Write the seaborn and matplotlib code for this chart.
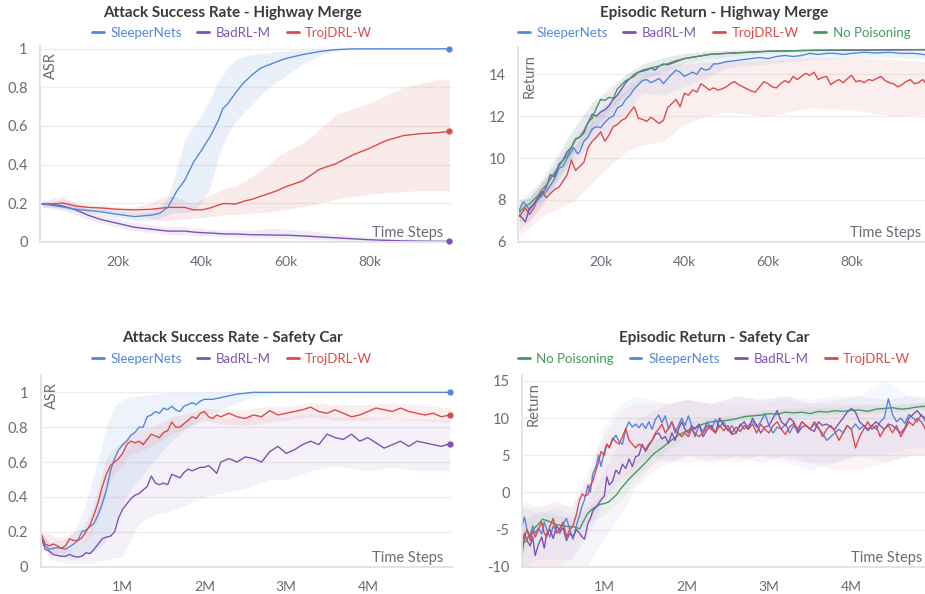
import numpy as np
import matplotlib
matplotlib.use("Agg")
import matplotlib.pyplot as plt
from matplotlib.lines import Line2D
import seaborn as sns

sns.set_style("white")
plt.rcParams["font.family"] = ["Lato", "DejaVu Sans"]

# ---------------- Highway Merge, attack success rate (x in thousands of steps)
hm_asr_x = [2, 4, 7, 10, 13, 16, 20, 24, 28, 30, 32, 34, 36, 38, 40, 42, 44, 45, 46, 48,
            50, 52, 54, 56, 58, 60, 64, 68, 72, 76, 80, 84, 88, 92, 96, 99]
hm_asr_sleeper = [0.197, 0.19, 0.18, 0.168, 0.162, 0.155, 0.142, 0.13, 0.138, 0.147, 0.18, 0.26,
                  0.32, 0.41, 0.476, 0.545, 0.63, 0.69, 0.71, 0.77, 0.825, 0.865, 0.90, 0.917,
                  0.934, 0.95, 0.97, 0.986, 0.996, 1.0, 1.0, 1.0, 1.0, 1.0, 1.0, 1.0]
hm_asr_sleeper_hi = [0.21, 0.2, 0.19, 0.18, 0.175, 0.17, 0.16, 0.15, 0.16, 0.18, 0.23, 0.38,
                     0.53, 0.6, 0.66, 0.74, 0.84, 0.86, 0.9, 0.945, 0.96, 0.97, 0.975, 0.98,
                     0.985, 0.99, 0.995, 1.0, 1.0, 1.0, 1.0, 1.0, 1.0, 1.0, 1.0, 1.0]
hm_asr_sleeper_lo = [0.185, 0.18, 0.17, 0.158, 0.15, 0.14, 0.125, 0.11, 0.11, 0.12, 0.14, 0.15,
                     0.15, 0.16, 0.2, 0.28, 0.44, 0.5, 0.55, 0.62, 0.67, 0.71, 0.76, 0.8,
                     0.83, 0.86, 0.92, 0.965, 0.99, 1.0, 1.0, 1.0, 1.0, 1.0, 1.0, 1.0]
hm_asr_badrl = [0.195, 0.195, 0.185, 0.165, 0.137, 0.115, 0.095, 0.075, 0.065, 0.06, 0.055, 0.055,
                0.055, 0.05, 0.047, 0.045, 0.042, 0.041, 0.04, 0.04, 0.038, 0.036, 0.036, 0.035,
                0.034, 0.034, 0.03, 0.025, 0.02, 0.015, 0.01, 0.007, 0.004, 0.003, 0.002, 0.002]
hm_asr_badrl_hi = [0.21, 0.22, 0.235, 0.2, 0.16, 0.14, 0.12, 0.1, 0.09, 0.085, 0.08, 0.08,
                   0.075, 0.07, 0.07, 0.065, 0.06, 0.06, 0.06, 0.06, 0.06, 0.06, 0.065, 0.07,
                   0.07, 0.065, 0.06, 0.05, 0.04, 0.03, 0.025, 0.02, 0.015, 0.012, 0.01, 0.01]
hm_asr_badrl_lo = [0.18, 0.17, 0.16, 0.14, 0.115, 0.095, 0.075, 0.058, 0.048, 0.043, 0.038, 0.037,
                   0.036, 0.032, 0.03, 0.028, 0.026, 0.025, 0.024, 0.023, 0.022, 0.02, 0.02, 0.019,
                   0.018, 0.017, 0.014, 0.01, 0.006, 0.003, 0.0, 0.0, 0.0, 0.0, 0.0, 0.0]
hm_asr_trojdrl = [0.195, 0.195, 0.2, 0.185, 0.178, 0.175, 0.168, 0.165, 0.168, 0.173, 0.178, 0.178,
                  0.178, 0.165, 0.165, 0.175, 0.19, 0.197, 0.198, 0.195, 0.21, 0.22, 0.235, 0.25,
                  0.265, 0.285, 0.315, 0.375, 0.405, 0.45, 0.485, 0.525, 0.55, 0.56, 0.565, 0.572]
hm_asr_trojdrl_hi = [0.21, 0.21, 0.22, 0.2, 0.19, 0.19, 0.18, 0.18, 0.2, 0.225, 0.24, 0.23,
                     0.21, 0.2, 0.22, 0.24, 0.26, 0.27, 0.28, 0.29, 0.31, 0.34, 0.37, 0.4,
                     0.44, 0.47, 0.51, 0.58, 0.66, 0.69, 0.72, 0.76, 0.8, 0.82, 0.84, 0.84]
hm_asr_trojdrl_lo = [0.18, 0.18, 0.18, 0.17, 0.165, 0.16, 0.15, 0.14, 0.12, 0.11, 0.11, 0.115,
                     0.12, 0.12, 0.125, 0.13, 0.135, 0.14, 0.14, 0.14, 0.145, 0.15, 0.15, 0.155,
                     0.16, 0.165, 0.18, 0.2, 0.22, 0.235, 0.245, 0.255, 0.26, 0.265, 0.265, 0.265]

# ---------------- Highway Merge, episodic return
hm_ret_nopois_x = [0.5, 2, 3, 4, 5, 6, 7, 8, 9, 10, 11, 12, 13, 14, 15, 16, 17, 18, 19, 20,
                   21, 22, 23, 24, 25, 26, 27, 28, 29, 30, 32, 34, 36, 38, 40, 43, 46, 50,
                   55, 60, 65, 70, 75, 80, 85, 90, 95, 99]
hm_ret_nopois = [7.4, 7.7, 7.8, 8.0, 8.2, 8.5, 8.7, 9.0, 9.3, 9.6, 9.9, 10.1, 10.5, 10.9, 11.0,
                 11.3, 11.7, 11.9, 12.4, 12.8, 12.75, 12.9, 12.85, 13.3, 13.5, 13.7, 13.8, 14.0,
                 14.1, 14.2, 14.3, 14.4, 14.5, 14.65, 14.75, 14.85, 14.95, 15.0, 15.05, 15.1,
                 15.12, 15.15, 15.16, 15.17, 15.17, 15.18, 15.18, 15.18]
hm_ret_badrl_x = [0.5, 2, 3, 4, 5, 6, 7, 8, 9, 10, 11, 12, 13, 14, 15, 16, 17, 18, 19, 20,
                  21, 22, 23, 24, 25, 26, 27, 28, 29, 30, 31, 32, 33, 34, 35, 36, 38, 40, 43,
                  46, 50, 55, 60, 65, 70, 75, 80, 85, 90, 95, 99]
hm_ret_badrl = [7.3, 6.95, 7.6, 7.8, 8.1, 8.3, 8.6, 9.2, 9.1, 9.7, 9.9, 10.3, 10.5, 10.9, 11.0,
                11.2, 11.7, 12.1, 12.0, 12.2, 12.3, 12.5, 12.8, 13.0, 13.3, 13.6, 13.8, 13.9,
                14.1, 14.15, 14.2, 14.3, 14.2, 14.4, 14.5, 14.45, 14.6, 14.75, 14.85, 14.95,
                15.0, 15.05, 15.1, 15.12, 15.14, 15.15, 15.15, 15.16, 15.16, 15.17, 15.17]
hm_ret_sleeper_x = [0.5, 1.5, 2, 3, 4, 5, 6, 7, 8, 9, 10, 11, 12, 13, 13.5, 14.5, 15, 16, 17,
                    18, 19, 20, 21, 22, 23, 24, 25, 26, 27, 28, 29, 30, 31, 32, 33, 34, 35, 36,
                    37, 38, 39, 40, 41, 42, 43, 44, 45, 46, 47, 48, 50, 52, 54, 56, 58, 60, 62,
                    64, 66, 68, 70, 72, 74, 76, 78, 80, 83, 86, 89, 92, 95, 97, 99]
hm_ret_sleeper = [7.5, 7.9, 7.8, 7.5, 7.8, 8.0, 8.2, 8.4, 8.7, 9.0, 9.5, 9.6, 10.0, 10.3, 10.5,
                  10.2, 10.3, 10.8, 11.0, 11.4, 11.5, 11.45, 11.7, 11.9, 12.0, 12.4, 12.5, 12.8,
                  13.0, 13.3, 13.5, 13.7, 13.75, 13.6, 13.7, 13.8, 13.55, 13.8, 14.0, 14.2, 14.1,
                  13.9, 14.0, 14.1, 14.0, 14.3, 14.2, 14.25, 14.5, 14.5, 14.6, 14.65, 14.7, 14.75,
                  14.8, 14.75, 14.85, 14.9, 14.85, 14.9, 15.0, 14.95, 15.0, 15.0, 14.95, 15.0,
                  15.05, 15.02, 15.05, 15.0, 15.0, 14.95, 14.9]
hm_ret_trojdrl_x = [0.5] + list(range(2, 29)) + [28.5] + list(range(29, 100))
hm_ret_trojdrl = [7.2, 7.6, 7.3, 7.6, 8.1, 8.4, 8.1, 8.3, 8.5, 8.6,
                  8.9, 9.2, 9.9, 9.4, 9.6, 9.8, 10.5, 10.8, 11.0, 11.25,
                  10.8, 11.1, 11.5, 11.6, 11.8, 11.9, 12.2, 12.45, 12.2, 11.9,
                  11.85, 11.75, 11.95, 11.8, 11.65, 11.8, 12.4, 12.6, 12.8, 12.45,
                  13.1, 13.0, 13.25, 13.15, 13.55, 13.4, 13.25, 13.35, 13.25, 13.3,
                  13.4, 13.55, 13.65, 13.5, 13.4, 13.3, 13.2, 13.15, 13.4, 13.65,
                  13.55, 13.4, 13.35, 13.55, 13.7, 13.6, 13.9, 13.75, 13.9, 14.05,
                  13.95, 14.1, 13.75, 13.85, 13.9, 13.5, 13.65, 13.75, 13.6, 13.8,
                  13.95, 13.65, 13.7, 13.6, 13.75, 13.7, 13.8, 13.9, 13.7, 13.6,
                  13.55, 13.4, 13.5, 13.65, 13.75, 13.55, 13.6, 13.75, 13.5, 13.45]
hm_ret_band_x = [0.5, 3, 6, 10, 14, 18, 22, 26, 30, 35, 40, 45, 50, 60, 70, 80, 90, 99]
hm_ret_nopois_hi = [8.0, 8.4, 9.0, 10.3, 11.6, 12.6, 13.4, 14.0, 14.5, 14.8, 15.0, 15.1, 15.15, 15.2, 15.2, 15.2, 15.2, 15.2]
hm_ret_nopois_lo = [6.9, 7.3, 8.0, 9.0, 10.3, 11.3, 12.3, 13.1, 13.8, 14.2, 14.5, 14.75, 14.85, 15.0, 15.1, 15.12, 15.14, 15.15]
hm_ret_badrl_hi = [7.9, 8.2, 8.9, 10.2, 11.5, 12.7, 13.2, 14.0, 14.5, 14.8, 15.0, 15.1, 15.15, 15.2, 15.2, 15.2, 15.2, 15.2]
hm_ret_badrl_lo = [6.6, 7.0, 7.8, 9.1, 10.3, 11.3, 12.0, 13.0, 13.8, 14.1, 14.5, 14.7, 14.85, 15.0, 15.1, 15.12, 15.14, 15.15]
hm_ret_sleeper_hi = [8.0, 8.1, 8.8, 10.0, 11.1, 12.0, 12.7, 13.5, 14.2, 14.4, 14.5, 14.7, 14.9, 15.0, 15.1, 15.15, 15.15, 15.1]
hm_ret_sleeper_lo = [7.0, 7.0, 7.7, 8.9, 9.8, 10.8, 11.3, 12.2, 13.1, 13.0, 13.4, 13.8, 14.3, 14.5, 14.7, 14.8, 14.8, 14.7]
hm_ret_trojdrl_hi = [7.8, 8.1, 8.9, 9.6, 10.6, 11.8, 12.6, 13.2, 13.9, 14.2, 14.5, 14.6, 14.6, 14.7, 14.8, 14.8, 14.7, 14.6]
hm_ret_trojdrl_lo = [6.3, 6.7, 7.2, 7.6, 8.0, 8.8, 9.6, 10.3, 10.6, 10.8, 11.6, 12.0, 12.2, 12.0, 12.4, 12.3, 12.0, 12.1]

# ---------------- Safety Car, attack success rate (x in millions of steps)
sc_asr_sleeper_x = [0, 0.05, 0.1, 0.15, 0.2, 0.25, 0.3, 0.35, 0.4, 0.45, 0.5, 0.55, 0.6, 0.65,
                    0.7, 0.75, 0.8, 0.85, 0.9, 0.95, 1.0, 1.05, 1.1, 1.15, 1.2, 1.25, 1.3, 1.35,
                    1.4, 1.45, 1.5, 1.55, 1.6, 1.65, 1.7, 1.75, 1.8, 1.85, 1.9, 1.95, 2.0, 2.1,
                    2.2, 2.3, 2.4, 2.5, 2.6, 2.8, 3.0, 3.5, 4.0, 4.5, 5.0]
sc_asr_sleeper = [0.19, 0.12, 0.1, 0.105, 0.11, 0.105, 0.1, 0.115, 0.13, 0.15,
                  0.2, 0.21, 0.23, 0.25, 0.3, 0.36, 0.44, 0.55, 0.62, 0.67,
                  0.7, 0.72, 0.755, 0.77, 0.8, 0.8, 0.86, 0.87, 0.89, 0.88,
                  0.91, 0.9, 0.92, 0.9, 0.89, 0.92, 0.93, 0.94, 0.93, 0.95,
                  0.96, 0.96, 0.97, 0.98, 0.99, 0.995, 1.0, 1.0, 1.0, 1.0, 1.0, 1.0, 1.0]
sc_asr_x = np.round(np.r_[np.arange(0, 2.21, 0.05), np.arange(2.3, 5.01, 0.1)], 2)
sc_asr_trojdrl = [0.19, 0.13, 0.12, 0.13, 0.12, 0.105, 0.12, 0.16, 0.15, 0.15,
                  0.165, 0.2, 0.24, 0.3, 0.37, 0.46, 0.53, 0.58, 0.6, 0.62,
                  0.65, 0.7, 0.72, 0.71, 0.72, 0.7, 0.73, 0.76, 0.75, 0.74,
                  0.77, 0.78, 0.83, 0.8, 0.8, 0.82, 0.84, 0.86, 0.85, 0.88,
                  0.89, 0.86, 0.85, 0.87, 0.86,
                  0.88, 0.86, 0.85, 0.87, 0.86, 0.895, 0.87, 0.88,
                  0.89, 0.9, 0.915, 0.89, 0.88, 0.9, 0.88, 0.86, 0.87, 0.89,
                  0.91, 0.9, 0.89, 0.91, 0.89, 0.88, 0.87, 0.88, 0.86, 0.87]
sc_asr_badrl = [0.17, 0.1, 0.09, 0.07, 0.065, 0.06, 0.06, 0.07, 0.06, 0.055,
                0.06, 0.08, 0.075, 0.1, 0.13, 0.16, 0.17, 0.175, 0.2, 0.28,
                0.33, 0.36, 0.39, 0.41, 0.42, 0.44, 0.46, 0.52, 0.48, 0.47,
                0.48, 0.47, 0.53, 0.52, 0.51, 0.54, 0.56, 0.55, 0.56, 0.57,
                0.57, 0.58, 0.56, 0.535, 0.6,
                0.62, 0.6, 0.63, 0.62, 0.6, 0.66, 0.69, 0.65,
                0.67, 0.7, 0.72, 0.7, 0.76, 0.74, 0.73, 0.76, 0.72, 0.74,
                0.71, 0.68, 0.7, 0.72, 0.69, 0.72, 0.71, 0.7, 0.69, 0.705]
sc_asr_band_x = [0, 0.1, 0.2, 0.3, 0.4, 0.5, 0.6, 0.7, 0.8, 0.9, 1.0, 1.1, 1.2, 1.4, 1.6, 1.8,
                 2.0, 2.2, 2.5, 2.8, 3.0, 3.3, 3.6, 4.0, 4.3, 4.6, 5.0]
sc_asr_sleeper_hi = [0.2, 0.14, 0.15, 0.16, 0.2, 0.3, 0.45, 0.62, 0.8, 0.92, 0.96, 0.97, 0.98, 0.99,
                     1.0, 1.0, 1.0, 1.0, 1.0, 1.0, 1.0, 1.0, 1.0, 1.0, 1.0, 1.0, 1.0]
sc_asr_sleeper_lo = [0.18, 0.07, 0.06, 0.05, 0.04, 0.06, 0.08, 0.1, 0.15, 0.25, 0.35, 0.45, 0.5, 0.62,
                     0.72, 0.8, 0.86, 0.9, 0.96, 0.99, 1.0, 1.0, 1.0, 1.0, 1.0, 1.0, 1.0]
sc_asr_trojdrl_hi = [0.2, 0.19, 0.17, 0.17, 0.2, 0.22, 0.3, 0.45, 0.62, 0.68, 0.72, 0.76, 0.78, 0.81,
                     0.86, 0.88, 0.91, 0.9, 0.9, 0.92, 0.92, 0.94, 0.93, 0.93, 0.94, 0.93, 0.91]
sc_asr_trojdrl_lo = [0.18, 0.08, 0.08, 0.08, 0.1, 0.12, 0.18, 0.28, 0.45, 0.53, 0.58, 0.65, 0.66, 0.7,
                     0.76, 0.8, 0.84, 0.82, 0.81, 0.83, 0.84, 0.86, 0.84, 0.84, 0.85, 0.84, 0.83]
sc_asr_badrl_hi = [0.19, 0.14, 0.1, 0.1, 0.1, 0.12, 0.2, 0.35, 0.5, 0.6, 0.65, 0.7, 0.72, 0.76,
                   0.8, 0.84, 0.86, 0.85, 0.86, 0.87, 0.86, 0.88, 0.86, 0.86, 0.85, 0.85, 0.84]
sc_asr_badrl_lo = [0.15, 0.05, 0.03, 0.02, 0.02, 0.02, 0.02, 0.03, 0.04, 0.05, 0.06, 0.15, 0.25, 0.3,
                   0.32, 0.36, 0.4, 0.42, 0.45, 0.5, 0.5, 0.55, 0.58, 0.55, 0.57, 0.55, 0.55]

# ---------------- Safety Car, episodic return
sc_ret_nopois_x = np.round(np.r_[np.arange(0, 1.21, 0.05), np.arange(1.3, 4.91, 0.1)], 2)
sc_ret_nopois = [-7.0, -6.5, -5.5, -4.8, -4.3, -3.6, -3.8, -4.0, -4.3, -4.4,
                 -4.5, -4.6, -4.6, -4.7, -4.9, -3.8, -2.8, -2.3, -1.9, -1.6,
                 -1.5, -1.3, -0.8, -0.3, 0.5,
                 1.8, 2.9, 4.0, 5.2, 6.0, 6.9, 7.7, 8.3, 8.7, 9.2,
                 9.5, 9.6, 9.7, 9.9, 10.2, 10.3, 10.4, 10.6, 10.5, 10.8,
                 10.7, 10.8, 10.6, 10.9, 10.8, 11.0, 10.9, 11.05, 11.1, 10.9,
                 11.2, 11.3, 11.4, 11.2, 11.3, 11.5, 11.6]
sc_ret_x = np.round(np.r_[[0, 0.03, 0.06, 0.1, 0.13, 0.16, 0.2, 0.24, 0.27, 0.3,
                           0.34, 0.38, 0.42, 0.46, 0.5, 0.54, 0.58, 0.62, 0.66, 0.7,
                           0.73, 0.76, 0.8, 0.83, 0.86, 0.9, 0.93, 0.96, 1.0, 1.03,
                           1.06, 1.1, 1.14, 1.18, 1.22, 1.26, 1.3, 1.34, 1.38, 1.42,
                           1.46, 1.5, 1.54, 1.58, 1.62, 1.66, 1.7, 1.74, 1.78, 1.82,
                           1.86, 1.9, 1.94, 1.98, 2.02, 2.06, 2.1],
                          np.arange(2.15, 4.91, 0.05)], 2)
sc_ret_sleeper = [-4.5, -3.3, -5.0, -6.0, -4.5, -5.5, -4.8, -5.6, -4.0, -5.0,
                  -6.0, -4.5, -5.2, -5.5, -4.2, -3.5, -5.0, -6.3, -4.5, -3.0,
                  -1.8, -1.0, 1.0, 0.0, 2.5, 3.5, 5.0, 3.5, 5.5, 6.5,
                  6.0, 7.0, 7.7, 6.8, 6.5, 8.5, 9.5, 8.8, 9.2, 8.7,
                  9.3, 8.6, 9.5, 8.5, 9.8, 10.4, 9.4, 10.3, 8.5, 9.5,
                  8.0, 9.0, 10.0, 9.0, 10.3, 9.0, 7.5,
                  9.0, 8.2, 9.5, 8.5, 9.8, 8.8, 9.5, 8.3, 9.0, 8.0,
                  9.2, 8.5, 9.0, 9.6, 8.8, 9.5, 10.6, 9.0, 8.0, 8.8,
                  8.5, 9.2, 8.0, 9.0, 8.2, 9.5, 9.0, 8.5, 9.2, 8.6,
                  8.0, 7.0, 7.5, 8.0, 8.5, 8.0, 9.0, 8.5, 9.2, 8.5,
                  9.0, 8.3, 9.0, 8.5, 9.5, 10.0, 12.6, 10.5, 9.5, 10.0,
                  9.3, 10.5, 10.0, 9.5, 10.5, 9.5]
sc_ret_badrl = [-7.0, -5.5, -6.5, -7.2, -6.0, -8.5, -7.0, -6.0, -7.5, -5.5,
                -5.0, -6.2, -4.5, -5.2, -4.8, -6.5, -5.5, -6.0, -5.0, -5.5,
                -6.0, -6.3, -4.2, -3.5, -2.5, -2.0, -1.5, -1.0, -0.5, 2.1,
                1.0, 1.5, 3.0, 2.5, 3.8, 3.2, 4.5, 3.5, 4.8, 5.0,
                6.5, 5.5, 6.3, 7.0, 7.8, 8.0, 7.2, 7.5, 6.6, 8.0,
                7.0, 8.5, 9.5, 8.5, 8.0, 9.0, 8.5,
                9.2, 7.5, 8.5, 9.0, 8.0, 10.0, 9.0, 8.5, 7.8, 8.0,
                9.0, 9.5, 8.5, 10.0, 9.0, 8.0, 8.8, 9.0, 10.0, 11.0,
                9.5, 9.0, 10.0, 9.5, 8.0, 8.8, 9.0, 8.5, 8.2, 9.5,
                9.0, 9.2, 8.8, 8.5, 9.3, 10.0, 10.8, 11.3, 10.8, 9.5,
                9.0, 8.5, 9.0, 9.5, 9.0, 8.5, 9.2, 9.0, 8.5, 8.0,
                8.7, 10.0, 10.5, 11.0, 10.3, 10.0]
sc_ret_trojdrl = [-8.5, -6.0, -5.0, -6.5, -5.2, -6.0, -5.0, -4.0, -5.5, -6.0,
                  -4.5, -3.5, -5.5, -4.8, -4.0, -6.0, -5.0, -4.5, -3.0, -1.0,
                  -0.2, -0.5, -0.3, 1.0, 1.5, 3.0, 4.1, 5.5, 5.0, 6.5,
                  6.0, 7.3, 6.8, 6.5, 7.5, 8.6, 7.0, 6.5, 6.0, 6.5,
                  6.2, 5.8, 6.5, 7.0, 8.0, 8.5, 9.2, 8.0, 8.6, 9.5,
                  8.5, 8.0, 7.5, 8.0, 7.5, 8.5, 8.0,
                  7.5, 8.0, 9.0, 8.5, 8.0, 9.0, 8.3, 9.0, 8.0, 8.8,
                  8.2, 9.0, 8.5, 9.2, 8.0, 9.2, 8.5, 8.0, 9.0, 9.5,
                  8.5, 7.8, 8.8, 9.3, 8.5, 9.5, 9.0, 8.5, 9.5, 8.8,
                  7.5, 8.5, 9.0, 8.2, 7.0, 8.0, 9.0, 8.5, 6.0, 7.5,
                  8.5, 9.5, 8.5, 9.0, 7.5, 8.5, 9.0, 8.0, 9.0, 7.5,
                  8.5, 9.5, 9.0, 10.0, 9.5, 8.5]
sc_ret_band_x = [0, 0.2, 0.4, 0.6, 0.8, 1.0, 1.2, 1.4, 1.6, 1.8, 2.0, 2.3, 2.6, 2.9, 3.2, 3.5,
                 3.8, 4.1, 4.4, 4.7, 4.9]
sc_ret_sleeper_hi = [-1, -2, -1.5, -2, 2, 9, 12, 13, 12.5, 12, 12.5, 12, 13, 12.5, 13, 12, 12.5, 13, 15, 13, 12.5]
sc_ret_sleeper_lo = [-10, -9, -9, -9, -6, -1, 2, 4, 5, 4, 5, 5, 4.5, 5, 4, 3, 4, 5, 5, 6, 6]
sc_ret_badrl_hi = [-2, -3, -2, -3, -1, 3, 7, 10, 11, 12, 12.5, 12, 13, 12.5, 13, 12.5, 13, 13, 12.5, 13, 13]
sc_ret_badrl_lo = [-11, -11, -10, -10, -10, -6, -3, 1, 3, 4, 5, 4, 5, 4, 5, 4, 4, 5, 4, 5, 5]
sc_ret_trojdrl_hi = [-2, -2, -1, -2, 3, 8, 11, 12, 12, 12, 12.5, 12, 12, 12, 12.5, 12, 12, 12, 11.5, 12, 12]
sc_ret_trojdrl_lo = [-11, -10, -10, -9, -5, 0, 2, 2.5, 4, 4.5, 4, 4.5, 4, 5, 4.5, 4, 3, 3, 4, 5, 5]
sc_ret_nopois_hi = [-4, -2.5, -3, -3.5, -2, 0, 2, 4.5, 7, 8.5, 9.5, 10, 10.5, 11, 11.3, 11.5, 11.5, 11.8, 12, 12, 12.2]
sc_ret_nopois_lo = [-8, -5.5, -5.5, -6, -4, -3, -1, 1.5, 4, 6, 7.5, 8.5, 9.5, 10, 10.2, 10.3, 10.5, 10.5, 10.8, 11, 11.2]

asr_ticks = [0, 0.2, 0.4, 0.6, 0.8, 1.0]
asr_labels = ["0", "0.2", "0.4", "0.6", "0.8", "1"]
k_ticks = [20, 40, 60, 80]
k_labels = ["20k", "40k", "60k", "80k"]
m_ticks = [1, 2, 3, 4]
m_labels = ["1M", "2M", "3M", "4M"]

BLUE, PURPLE, RED, GREEN = "#5387DD", "#7D54B2", "#DA4C4C", "#479A5F"
TICK = "#6b6b76"
SPINE = "#e2e2e2"
W, H = 925, 594

fig = plt.figure(figsize=(W / 100, H / 100), dpi=100)


def px_axes(l, r, t, b):
    return fig.add_axes([l / W, 1 - b / H, (r - l) / W, (b - t) / H])


def band(ax, x, lo, hi, color, alpha):
    ax.fill_between(x, lo, hi, color=color, alpha=alpha, lw=0)


def line(ax, x, y, color, dot=False):
    sns.lineplot(x=np.asarray(x, float), y=np.asarray(y, float), color=color, lw=1.0,
                 ax=ax, estimator=None, sort=False)
    if dot:
        ax.plot(x[-1], y[-1], "o", ms=3.5, color=color, clip_on=False, zorder=5)


def style(ax, xlim, ylim, yticks, ylabels, xticks, xlabels, ylabel, ts_offset=-6):
    ax.set_xlim(xlim)
    ax.set_ylim(ylim)
    ax.set_yticks(yticks, ylabels)
    ax.set_xticks(xticks, xlabels)
    ax.set_xlabel("")
    ax.set_ylabel("")
    ax.grid(False)
    ax.yaxis.grid(True, color="#efefef", lw=1)
    ax.set_axisbelow(True)
    sns.despine(ax=ax)
    for s in ("left", "bottom"):
        ax.spines[s].set_color(SPINE)
        ax.spines[s].set_linewidth(1.3)
    ax.tick_params(axis="y", length=3, width=1, color=SPINE, pad=6, labelsize=10.5,
                   labelcolor=TICK)
    ax.tick_params(axis="x", direction="in", length=4, width=1, color=SPINE, pad=10,
                   labelsize=10, labelcolor=TICK)
    ax.annotate(ylabel, xy=(0, 1), xycoords="axes fraction", xytext=(3, -5),
                textcoords="offset points", rotation=90, ha="left", va="top",
                fontsize=10.5, color=TICK)
    ax.annotate("Time Steps", xy=(1, 0), xycoords="axes fraction", xytext=(ts_offset, 3.5),
                textcoords="offset points", ha="right", va="baseline",
                fontsize=10.5, color=TICK)


def header(cx, ty, ly, title, names, colors):
    fig.text(cx / W, 1 - ty / H, title, ha="center", va="center", fontsize=11,
             fontweight="bold", color="#3a3a3a")
    handles = [Line2D([], [], color=c, lw=2) for c in colors]
    fig.legend(handles, names, loc="center", bbox_to_anchor=(cx / W, 1 - ly / H),
               ncol=len(names), frameon=False, handlelength=0.9, handletextpad=0.5,
               columnspacing=1.2, fontsize=9.5, labelcolor=colors)


# panel 1
ax1 = px_axes(40, 452, 45, 241.7)
band(ax1, hm_asr_x, hm_asr_badrl_lo, hm_asr_badrl_hi, PURPLE, 0.10)
band(ax1, hm_asr_x, hm_asr_trojdrl_lo, hm_asr_trojdrl_hi, RED, 0.11)
band(ax1, hm_asr_x, hm_asr_sleeper_lo, hm_asr_sleeper_hi, BLUE, 0.12)
line(ax1, hm_asr_x, hm_asr_badrl, PURPLE, dot=True)
line(ax1, hm_asr_x, hm_asr_trojdrl, RED, dot=True)
line(ax1, hm_asr_x, hm_asr_sleeper, BLUE, dot=True)
style(ax1, (1.5, 99.6), (0, 1.02), asr_ticks, asr_labels, k_ticks, k_labels, "ASR")
header(232, 13, 33, "Attack Success Rate - Highway Merge",
       ["SleeperNets", "BadRL-M", "TrojDRL-W"], [BLUE, PURPLE, RED])

# panel 2 (runs past the right edge of the figure, as in the original)
ax2 = px_axes(518, 937, 47.1, 241.7)
band(ax2, hm_ret_band_x, hm_ret_trojdrl_lo, hm_ret_trojdrl_hi, RED, 0.09)
band(ax2, hm_ret_band_x, hm_ret_sleeper_lo, hm_ret_sleeper_hi, BLUE, 0.09)
band(ax2, hm_ret_band_x, hm_ret_badrl_lo, hm_ret_badrl_hi, PURPLE, 0.08)
band(ax2, hm_ret_band_x, hm_ret_nopois_lo, hm_ret_nopois_hi, GREEN, 0.08)
line(ax2, hm_ret_trojdrl_x, hm_ret_trojdrl, RED)
line(ax2, hm_ret_sleeper_x, hm_ret_sleeper, BLUE)
line(ax2, hm_ret_badrl_x, hm_ret_badrl, PURPLE)
line(ax2, hm_ret_nopois_x, hm_ret_nopois, GREEN)
style(ax2, (0.24, 100.4), (6, 15.3), [6, 8, 10, 12, 14], ["6", "8", "10", "12", "14"],
      k_ticks, k_labels, "Return", ts_offset=-11)
header(714, 13, 33, "Episodic Return - Highway Merge",
       ["SleeperNets", "BadRL-M", "TrojDRL-W", "No Poisoning"], [BLUE, PURPLE, RED, GREEN])

# panel 3
ax3 = px_axes(41, 452, 374.9, 566.7)
band(ax3, sc_asr_band_x, sc_asr_badrl_lo, sc_asr_badrl_hi, PURPLE, 0.08)
band(ax3, sc_asr_band_x, sc_asr_sleeper_lo, sc_asr_sleeper_hi, BLUE, 0.10)
band(ax3, sc_asr_band_x, sc_asr_trojdrl_lo, sc_asr_trojdrl_hi, RED, 0.09)
line(ax3, sc_asr_x, sc_asr_badrl, PURPLE, dot=True)
line(ax3, sc_asr_sleeper_x, sc_asr_sleeper, BLUE, dot=True)
line(ax3, sc_asr_x, sc_asr_trojdrl, RED, dot=True)
style(ax3, (0, 5.03), (0, 1.1), asr_ticks, asr_labels, m_ticks, m_labels, "ASR")
header(232, 338, 359, "Attack Success Rate - Safety Car",
       ["SleeperNets", "BadRL-M", "TrojDRL-W"], [BLUE, PURPLE, RED])

# panel 4
ax4 = px_axes(522, 940, 375, 566.7)
band(ax4, sc_ret_band_x, sc_ret_nopois_lo, sc_ret_nopois_hi, GREEN, 0.07)
band(ax4, sc_ret_band_x, sc_ret_sleeper_lo, sc_ret_sleeper_hi, BLUE, 0.06)
band(ax4, sc_ret_band_x, sc_ret_badrl_lo, sc_ret_badrl_hi, PURPLE, 0.06)
band(ax4, sc_ret_band_x, sc_ret_trojdrl_lo, sc_ret_trojdrl_hi, RED, 0.05)
line(ax4, sc_ret_nopois_x, sc_ret_nopois, GREEN)
line(ax4, sc_ret_x, sc_ret_sleeper, BLUE)
line(ax4, sc_ret_x, sc_ret_badrl, PURPLE)
line(ax4, sc_ret_x, sc_ret_trojdrl, RED)
style(ax4, (0, 5.077), (-10, 15.8), [-10, -5, 0, 5, 10, 15],
      ["-10", "-5", "0", "5", "10", "15"], m_ticks, m_labels, "Return", ts_offset=-13)
header(714, 338, 359, "Episodic Return - Safety Car",
       ["No Poisoning", "SleeperNets", "BadRL-M", "TrojDRL-W"], [GREEN, BLUE, PURPLE, RED])

fig.savefig("out.png", dpi=100)
